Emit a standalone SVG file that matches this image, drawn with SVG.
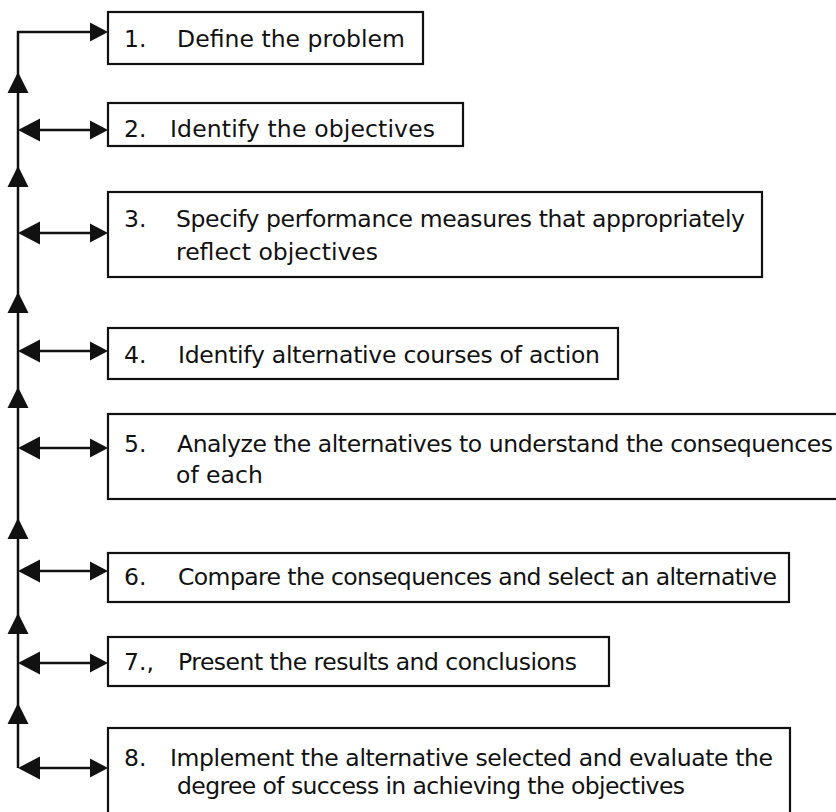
<svg xmlns="http://www.w3.org/2000/svg" width="836" height="812" viewBox="0 0 836 812">
  <style>
    .box { fill: #fff; stroke: #111; stroke-width: 2.2; }
    .t { font-family: "DejaVu Sans", "Liberation Sans", sans-serif; font-size: 23.5px; fill: #111; }
    .wire { fill: none; stroke: #111; stroke-width: 2.5; }
    .head { fill: #111; }
  </style>
  <defs>
    <polygon id="headRight" class="head" points="0,0 -18,-9.5 -18,9.5"/>
    <polygon id="headLeft" class="head" points="0,0 22,-11.5 22,11.5"/>
    <polygon id="headUp" class="head" points="0,0 -10.5,21 10.5,21"/>
  </defs>

  <rect width="836" height="812" fill="#fff"/>

  <!-- connectors: feedback spine with links to every step -->
  <g id="connectors">
    <path class="wire" d="M18,768 V32 H100"/>
    <path class="wire" d="M30,130 H100"/>
    <path class="wire" d="M30,233 H100"/>
    <path class="wire" d="M30,351 H100"/>
    <path class="wire" d="M30,448 H100"/>
    <path class="wire" d="M30,571 H100"/>
    <path class="wire" d="M30,663 H100"/>
    <path class="wire" d="M30,768 H100"/>
    <!-- heads pointing into the boxes -->
    <use href="#headRight" x="108" y="32"/>
    <use href="#headRight" x="108" y="130"/>
    <use href="#headRight" x="108" y="233"/>
    <use href="#headRight" x="108" y="351"/>
    <use href="#headRight" x="108" y="448"/>
    <use href="#headRight" x="108" y="571"/>
    <use href="#headRight" x="108" y="663"/>
    <use href="#headRight" x="108" y="768"/>
    <!-- heads pointing back to the spine -->
    <use href="#headLeft" x="18" y="130"/>
    <use href="#headLeft" x="18" y="233"/>
    <use href="#headLeft" x="18" y="351"/>
    <use href="#headLeft" x="18" y="448"/>
    <use href="#headLeft" x="18" y="571"/>
    <use href="#headLeft" x="18" y="663"/>
    <use href="#headLeft" x="18" y="768"/>
    <!-- upward flow along the spine -->
    <use href="#headUp" x="18" y="72"/>
    <use href="#headUp" x="18" y="166"/>
    <use href="#headUp" x="18" y="292"/>
    <use href="#headUp" x="18" y="387"/>
    <use href="#headUp" x="18" y="518"/>
    <use href="#headUp" x="18" y="613"/>
    <use href="#headUp" x="18" y="703"/>
  </g>

  <g id="step1">
    <rect class="box" x="108" y="12" width="315" height="52"/>
    <text class="t" x="124" y="47">1.</text>
    <text class="t" x="177" y="47" textLength="228" lengthAdjust="spacing">Define the problem</text>
  </g>

  <g id="step2">
    <rect class="box" x="108" y="103" width="355" height="43"/>
    <text class="t" x="124" y="137">2.</text>
    <text class="t" x="170" y="137" textLength="265" lengthAdjust="spacing">Identify the objectives</text>
  </g>

  <g id="step3">
    <rect class="box" x="108" y="192" width="654" height="85"/>
    <text class="t" x="124" y="227">3.</text>
    <text class="t" x="176" y="227" textLength="569" lengthAdjust="spacing">Specify performance measures that appropriately</text>
    <text class="t" x="176" y="260">reflect objectives</text>
  </g>

  <g id="step4">
    <rect class="box" x="108" y="328" width="510" height="51"/>
    <text class="t" x="124" y="363">4.</text>
    <text class="t" x="178" y="363" textLength="422" lengthAdjust="spacing">Identify alternative courses of action</text>
  </g>

  <g id="step5">
    <rect class="box" x="108" y="414" width="750" height="85"/>
    <text class="t" x="124" y="452">5.</text>
    <text class="t" x="177" y="452" textLength="656" lengthAdjust="spacing">Analyze the alternatives to understand the consequences</text>
    <text class="t" x="176" y="483">of each</text>
  </g>

  <g id="step6">
    <rect class="box" x="108" y="553" width="681" height="49"/>
    <text class="t" x="124" y="585">6.</text>
    <text class="t" x="178" y="585" textLength="599" lengthAdjust="spacing">Compare the consequences and select an alternative</text>
  </g>

  <g id="step7">
    <rect class="box" x="108" y="637" width="501" height="49"/>
    <text class="t" x="124" y="670">7.,</text>
    <text class="t" x="178" y="670" textLength="399" lengthAdjust="spacing">Present the results and conclusions</text>
  </g>

  <g id="step8">
    <rect class="box" x="108" y="728" width="682" height="110"/>
    <text class="t" x="124" y="766">8.</text>
    <text class="t" x="170" y="766" textLength="603" lengthAdjust="spacing">Implement the alternative selected and evaluate the</text>
    <text class="t" x="177" y="794" textLength="508" lengthAdjust="spacing">degree of success in achieving the objectives</text>
  </g>
</svg>
